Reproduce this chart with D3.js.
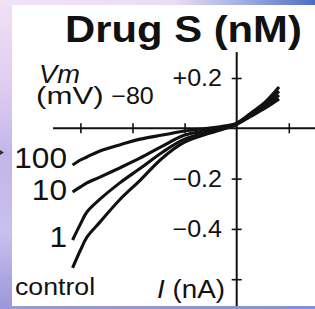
<!DOCTYPE html>
<html>
<head>
<meta charset="utf-8">
<script src="https://cdn.jsdelivr.net/npm/d3@7"></script>
<style>
  html, body { margin: 0; padding: 0; background: #fff; }
  svg { display: block; }
  text { font-family: "Liberation Sans", Arial, sans-serif; fill: #111; }
</style>
</head>
<body>
<div id="container"></div>
<script>
var volts = [-126, -120, -115, -105, -90, -74, -57, -40, -20.5, -5, 0, 10, 22, 32.5];

// current (nA) for each drug S concentration
var drugLabels = ["100", "10", "1", "control"];
var i100 = [-0.146, -0.126, -0.114, -0.090, -0.066, -0.043, -0.027, -0.011, 0.001, 0.013, 0.021, 0.057, 0.105, 0.164];
var i10 = [-0.253, -0.233, -0.217, -0.194, -0.158, -0.118, -0.071, -0.027, -0.007, 0.009, 0.019, 0.053, 0.097, 0.148];
var i1 = [-0.444, -0.381, -0.333, -0.282, -0.218, -0.159, -0.095, -0.043, -0.015, 0.007, 0.017, 0.049, 0.089, 0.132];
var iControl = [-0.555, -0.485, -0.433, -0.373, -0.285, -0.206, -0.118, -0.055, -0.019, 0.005, 0.015, 0.045, 0.081, 0.117];

var xTicks = [-120, -80, -40, 40];
var xTickLabels = ["", "\u221280", "", ""];
var yTicks = [0.2, -0.2, -0.4, -0.6];
var yTickLabels = ["+0.2", "\u22120.2", "\u22120.4", ""];

var width = 315, height = 309;
var stretch = 1.09; // the figure is a bit wider than tall

var svg = d3.select("#container").append("svg")
    .attr("width", width)
    .attr("height", height);

// slide background round the white figure
var defs = svg.append("defs");
function grad(id, x2, y2, stops) {
  var gr = defs.append("linearGradient").attr("id", id)
      .attr("x1", 0).attr("y1", 0).attr("x2", x2).attr("y2", y2);
  stops.forEach(function(s) {
    gr.append("stop").attr("offset", s[0]).attr("stop-color", s[1]);
  });
}
grad("topg", 1, 0, [[0, "#f2e2f6"], [0.55, "#eadcf3"], [0.75, "#a9b4e6"], [1, "#4d6dc6"]]);
grad("leftg", 0, 1, [[0, "#f1e1f6"], [0.3, "#dccbef"], [0.5, "#c2b6e8"], [0.75, "#c9c0ec"], [1, "#9a96d9"]]);
grad("botg", 1, 0, [[0, "#9d98dc"], [1, "#7f93d6"]]);

svg.append("rect").attr("width", width).attr("height", height).attr("fill", "url(#leftg)");
svg.append("rect").attr("width", width).attr("height", 5).attr("fill", "url(#topg)");
svg.append("rect").attr("y", 306).attr("width", width).attr("height", 3).attr("fill", "url(#botg)");
svg.append("rect").attr("x", 12).attr("y", 5).attr("width", width - 12).attr("height", 301).attr("fill", "#fff");
svg.append("path").attr("d", "M0,150 L4,152.5 L0,155 Z").attr("fill", "#333");

var x = d3.scaleLinear().domain([0, 40]).range([236.7, 288.8]);
var y = d3.scaleLinear().domain([0, 0.2]).range([128.3, 78]);

var g = svg.append("g");

// horizontal axis (Vm) through I = 0
var xAxis = g.append("g")
    .attr("transform", "translate(0," + y(0) + ")")
    .call(d3.axisBottom(x).tickValues(xTicks).tickSize(5).tickFormat(""));
xAxis.select(".domain").attr("d", "M" + x(-141) + ",0H" + width).attr("stroke", "#111").attr("stroke-width", 2);
xAxis.selectAll(".tick line").attr("y1", -5).attr("stroke", "#111").attr("stroke-width", 1.6);

// vertical axis (I) through Vm = 0
var yAxis = g.append("g")
    .attr("transform", "translate(" + x(0) + ",0)")
    .call(d3.axisLeft(y).tickValues(yTicks).tickSize(5).tickFormat(""));
yAxis.select(".domain").attr("d", "M0," + y(0.303) + "V" + 306).attr("stroke", "#111").attr("stroke-width", 2);
yAxis.selectAll(".tick line").attr("x1", 5).attr("x2", -5).attr("stroke", "#111").attr("stroke-width", 1.6);

function label(px, py, txt, size, anchor, sx) {
  return g.append("text")
      .attr("transform", "translate(" + px + "," + py + ") scale(" + (sx || stretch) + ",1)")
      .attr("text-anchor", anchor || "start")
      .style("font-size", size + "px")
      .text(txt);
}

// tick labels
xTicks.forEach(function(v, i) {
  if (xTickLabels[i]) label(x(v), 104, xTickLabels[i], 23, "middle");
});
yTicks.forEach(function(v, i) {
  if (yTickLabels[i]) label(222, y(v) + 8.3, yTickLabels[i], 23, "end");
});

// titles
label(65, 41.5, "Drug S (nM)", 37.5, "start", 1.115).style("font-weight", "bold");
label(39, 83, "Vm", 25).style("font-style", "italic");
label(36, 104, "(mV)", 24)
    .attr("textLength", 62)
    .attr("lengthAdjust", "spacingAndGlyphs");
var il = label(225, 298, "", 25.5, "end");
il.append("tspan").style("font-style", "italic").text("I");
il.append("tspan").text(" (nA)");

// the four I-V traces
var series = [i100, i10, i1, iControl];
var line = d3.line()
    .x(function(d, i) { return x(volts[i]); })
    .y(function(d) { return y(d); })
    .curve(d3.curveCatmullRom);

g.selectAll(".trace")
  .data(series)
  .enter().append("path")
    .attr("class", "trace")
    .attr("d", line)
    .attr("fill", "none")
    .attr("stroke", "#111")
    .attr("stroke-width", 3.1)
    .attr("stroke-linejoin", "round");

// concentration labels at the left ends
var labelY = [168, 200, 247, 295];
var labelSize = [29, 29, 29, 24.5];
drugLabels.forEach(function(name, i) {
  if (name === "control") label(15, labelY[i], name, labelSize[i], "start");
  else label(67, labelY[i], name, labelSize[i], "end");
});
</script>
</body>
</html>
